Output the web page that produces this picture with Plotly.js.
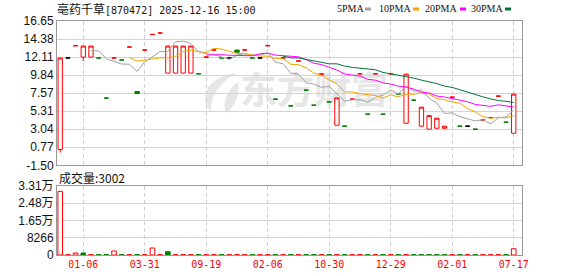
<!DOCTYPE html>
<html><head><meta charset="utf-8">
<script src="https://cdn.plot.ly/plotly-3.0.1.min.js"></script>
<style>html,body{margin:0;padding:0;background:#fff;}#chart{width:578px;height:276px;}</style>
</head><body><div id="chart"></div>
<script>
// ---- data ----
const tickIdx = [3, 11, 19, 27, 35, 43, 51, 59];
const tickLabels = ['01-06', '03-31', '09-19', '02-06', '10-30', '12-29', '02-01', '07-17'];

const openP = [0.48, 12.0, 13.54, 12.11, 12.11, 12.0, 6.95, 12.0, 11.74, 13.37,
  7.78, 13.0, 14.96, 15.14, 10.1, 10.1, 10.1, 10.1, 10.01, 12.11,
  13.0, 12.0, 12.0, 13.0, 13.0, 12.0, 12.0, 13.54, 6.82, 12.0,
  5.97, 11.61, 7.95, 6.06, 9.97, 6.48, 3.54, 3.42, 6.82, 10.01,
  4.93, 10.01, 4.93, 10.01, 7.48, 3.79, 6.69, 3.42, 3.04, 3.16,
  3.16, 7.07, 3.42, 3.42, 3.04, 4.2, 4.5, 7.2, 3.92, 2.53];
const highP = [12.0, 12.0, 13.54, 13.5, 13.5, 12.0, 6.95, 12.0, 11.74, 13.37,
  7.78, 13.0, 14.96, 15.14, 13.5, 13.5, 13.5, 13.5, 10.01, 12.11,
  13.0, 12.0, 12.0, 13.0, 13.0, 12.0, 12.0, 13.54, 6.82, 12.0,
  5.97, 11.61, 7.95, 6.06, 9.97, 6.48, 6.98, 3.42, 6.82, 10.01,
  4.93, 10.01, 4.93, 10.01, 7.48, 9.97, 6.69, 5.81, 4.75, 4.42,
  3.42, 7.07, 3.42, 3.42, 3.04, 4.2, 4.5, 7.2, 3.92, 7.45];
const lowP = [0.10, 12.0, 13.54, 11.6, 12.11, 12.0, 6.95, 12.0, 11.74, 13.37,
  7.53, 13.0, 14.96, 15.14, 10.1, 10.1, 10.1, 10.1, 10.01, 12.11,
  13.0, 12.0, 12.0, 12.71, 13.0, 12.0, 12.0, 13.54, 6.82, 12.0,
  5.97, 11.61, 7.95, 6.06, 9.97, 6.48, 3.54, 3.42, 6.82, 10.01,
  4.93, 10.01, 4.93, 10.01, 7.48, 3.79, 6.69, 3.42, 3.04, 3.16,
  3.16, 7.07, 3.42, 3.42, 3.04, 4.2, 4.5, 7.2, 3.92, 2.53];
const closeP = [12.0, 12.0, 13.54, 13.5, 13.5, 12.0, 6.95, 12.0, 11.74, 13.37,
  7.53, 13.0, 14.96, 15.14, 13.5, 13.5, 13.5, 13.5, 10.01, 12.11,
  13.0, 12.0, 12.0, 12.71, 13.0, 12.0, 12.0, 13.54, 6.82, 12.0,
  5.97, 11.61, 7.95, 6.06, 9.97, 6.48, 6.98, 3.42, 6.82, 10.01,
  4.93, 10.01, 4.93, 10.01, 7.48, 9.97, 6.69, 5.81, 4.75, 4.42,
  3.42, 7.07, 3.42, 3.42, 3.04, 4.2, 4.5, 7.2, 3.92, 7.45];
const volume = [30500, 150, 950, 950, 150, 150, 150, 1900, 150, 150,
  150, 150, 3350, 150, 1600, 150, 150, 150, 150, 150,
  150, 150, 150, 150, 150, 150, 150, 150, 150, 150,
  150, 150, 150, 150, 150, 150, 150, 150, 150, 150,
  150, 150, 150, 150, 150, 150, 150, 150, 150, 150,
  150, 150, 150, 150, 150, 150, 150, 150, 150, 3002];

const priceTicks = [-1.50, 0.77, 3.04, 5.31, 7.57, 9.84, 12.11, 14.38, 16.65];
const volTicks = [0, 8266, 16532, 24798, 33064];
const volTickText = ['0', '8266', '1.65万', '2.48万', '3.31万'];

const maPeriods = [5, 10, 20, 30];
const maNames = ['5PMA', '10PMA', '20PMA', '30PMA'];
const maColors = ['#a0a0a0', '#f5a300', '#ff00ff', '#00753a'];

// ---- styling ----
const RED = '#ff0000', GREEN = '#008000', BLACK = '#000000';
const n = closeP.length;
const idx = closeP.map((_, i) => i);

function movingAverage(vals, p) {
  const xs = [], ys = [];
  for (let i = p - 1; i < vals.length; i++) {
    let s = 0;
    for (let k = i - p + 1; k <= i; k++) s += vals[k];
    xs.push(i); ys.push(s / p);
  }
  return {xs, ys};
}

// direction vs previous close
function dir(i) {
  if (i === 0) return closeP[0] >= openP[0] ? 1 : -1;
  if (closeP[i] > closeP[i - 1]) return 1;
  if (closeP[i] < closeP[i - 1]) return -1;
  return 0;
}

const traces = [];
const bodyI = idx.filter(i => openP[i] !== closeP[i]);
traces.push({
  type: 'candlestick', xaxis: 'x', yaxis: 'y',
  x: bodyI, open: bodyI.map(i => openP[i]), high: bodyI.map(i => highP[i]),
  low: bodyI.map(i => lowP[i]), close: bodyI.map(i => closeP[i]),
  increasing: {line: {color: RED, width: 1}, fillcolor: '#ffffff'},
  decreasing: {line: {color: GREEN, width: 1}, fillcolor: GREEN},
  whiskerwidth: 0, hoverinfo: 'skip', showlegend: false
});
[[1, RED], [-1, GREEN], [0, BLACK]].forEach(([d, col]) => {
  const ii = idx.filter(i => openP[i] === closeP[i] && dir(i) === d);
  if (!ii.length) return;
  traces.push({
    type: 'candlestick', xaxis: 'x', yaxis: 'y',
    x: ii, open: ii.map(i => openP[i]), high: ii.map(i => highP[i]),
    low: ii.map(i => lowP[i]), close: ii.map(i => closeP[i]),
    increasing: {line: {color: col, width: 1}, fillcolor: col},
    decreasing: {line: {color: col, width: 1}, fillcolor: col},
    whiskerwidth: 0, hoverinfo: 'skip', showlegend: false
  });
});
maPeriods.forEach((p, k) => {
  const m = movingAverage(closeP, p);
  traces.push({
    type: 'scatter', mode: 'lines', xaxis: 'x', yaxis: 'y',
    x: m.xs, y: m.ys, name: maNames[k],
    line: {color: maColors[k], width: 1}, hoverinfo: 'skip', showlegend: false
  });
});
const vCol = idx.map(i => dir(i) >= 0 ? RED : GREEN);
traces.push({
  type: 'bar', xaxis: 'x2', yaxis: 'y2', x: idx, y: volume, width: 0.6,
  marker: {color: idx.map(i => dir(i) >= 0 ? '#ffffff' : GREEN),
           line: {color: vCol, width: 1}},
  hoverinfo: 'skip', showlegend: false
});

// ---- layout ----
const L = 57, R = 522, T = 21, B = 255;
const W = R - L, H = B - T;
const px = v => (v - L) / W;
const py = v => (B - v) / H;
const tickFont = {family: 'Liberation Sans, Arial, Noto Sans CJK SC', size: 12, color: '#111'};
const xRange = [-0.42, 60.08];
const gridX = {showgrid: true, gridcolor: '#d0d0d0', griddash: '4px,3px', gridwidth: 1};

function leafPath(pts) {
  return pts.map(s => s.replace(/(-?\d+\.?\d*),(-?\d+\.?\d*)/g,
    (m, a, b) => px(+a).toFixed(4) + ',' + py(+b).toFixed(4))).join(' ');
}

const layout = {
  width: 578, height: 276,
  margin: {l: L, r: 578 - R, t: T, b: 276 - B, pad: 0},
  paper_bgcolor: '#ffffff', plot_bgcolor: 'rgba(0,0,0,0)',
  showlegend: false, boxgap: 0.25, boxgroupgap: 0.25,
  xaxis: Object.assign({domain: [0, 1], range: xRange, anchor: 'y',
    tickmode: 'array', tickvals: tickIdx, ticktext: tickLabels, showticklabels: false,
    showline: true, mirror: true, linecolor: '#999', linewidth: 1,
    zeroline: false, ticks: '', rangeslider: {visible: false}, fixedrange: true}, gridX),
  yaxis: {domain: [py(165.3), 1], range: [-1.5, 16.65], anchor: 'x',
    tickmode: 'array', tickvals: priceTicks, ticktext: priceTicks.map(v => v.toFixed(2)),
    showgrid: true, gridcolor: '#d4d4d4', gridwidth: 1, zeroline: false,
    showline: true, mirror: true, linecolor: '#999', linewidth: 1,
    ticks: '', tickfont: tickFont, fixedrange: true},
  xaxis2: Object.assign({domain: [0, 1], range: xRange, anchor: 'y2',
    tickmode: 'array', tickvals: tickIdx, ticktext: tickLabels,
    tickfont: {family: 'DejaVu Sans Mono, Liberation Mono, monospace', size: 10, color: '#ff0000'},
    showline: true, mirror: true, linecolor: '#999', linewidth: 1,
    zeroline: false, ticks: '', fixedrange: true}, gridX),
  yaxis2: {domain: [0, py(186)], range: [0, 33064], anchor: 'x2',
    tickmode: 'array', tickvals: volTicks, ticktext: volTickText,
    showgrid: true, gridcolor: '#d4d4d4', gridwidth: 1, zeroline: false,
    showline: true, mirror: true, linecolor: '#999', linewidth: 1,
    ticks: '', tickfont: tickFont, fixedrange: true},
  shapes: [
    {type: 'rect', xref: 'paper', yref: 'paper', x0: px(238), x1: px(390), y0: py(113), y1: py(74),
     line: {width: 0}, fillcolor: 'rgba(0,0,0,0)', layer: 'below',
     label: {text: '东方财富', textposition: 'middle center',
       font: {family: 'Noto Sans CJK SC', size: 37, color: '#e6e6e6', weight: 'bold'}}},
    {type: 'path', xref: 'paper', yref: 'paper', layer: 'below', line: {width: 0},
     fillcolor: '#e6e6e6',
     path: leafPath(['M236,73', 'C210,76 196,96 212,113', 'C209,99 216,86 236,73', 'Z'])},
    {type: 'path', xref: 'paper', yref: 'paper', layer: 'below', line: {width: 0},
     fillcolor: '#e6e6e6',
     path: leafPath(['M238,82', 'C226,91 222,104 226,113', 'C236,106 240,94 238,82', 'Z'])}
  ],
  annotations: [
    {xref: 'paper', yref: 'paper', x: px(55), y: py(8.5), xanchor: 'left', yanchor: 'middle',
     showarrow: false,
     text: '<span style="font-family:Noto Sans CJK SC;font-size:12px">亳药千草</span>[870472] 2025-12-16 15:00',
     font: {family: 'DejaVu Sans Mono, Liberation Mono, monospace', size: 10, color: '#111'}},
    {xref: 'paper', yref: 'paper', x: px(57), y: py(177.5), xanchor: 'left', yanchor: 'middle',
     showarrow: false, text: '成交量:3002',
     font: {family: 'Noto Sans CJK SC, Liberation Sans', size: 12, color: '#111'}}
  ]
};
const legTextX = [350, 395, 440.5, 487];
const legMarkX = [368, 416, 463, 508];
maNames.forEach((nm, k) => {
  layout.annotations.push({xref: 'paper', yref: 'paper', x: px(legTextX[k]), y: py(9),
    xanchor: 'center', yanchor: 'middle', showarrow: false, text: nm,
    font: {family: 'Liberation Serif, DejaVu Serif, serif', size: 10, color: '#111'}});
  layout.shapes.push({type: 'rect', xref: 'paper', yref: 'paper',
    x0: px(legMarkX[k] - 3), x1: px(legMarkX[k] + 3), y0: py(10.5), y1: py(7.5),
    line: {width: 0}, fillcolor: maColors[k]});
});

Plotly.newPlot('chart', traces, layout, {staticPlot: true, displayModeBar: false});
</script>
</body></html>
